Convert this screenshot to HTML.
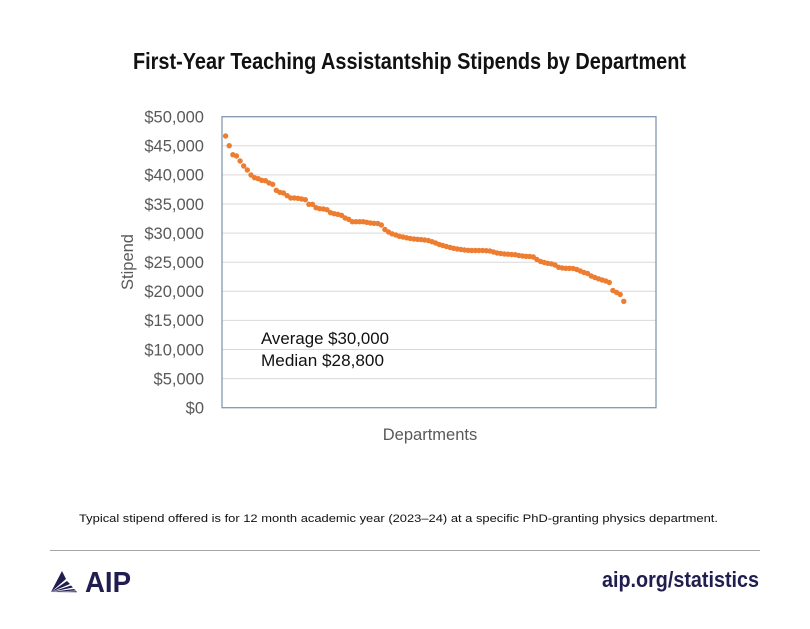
<!DOCTYPE html>
<html><head><meta charset="utf-8"><style>
html,body{margin:0;padding:0;background:#fff;}
svg{display:block;}
text{font-family:"Liberation Sans",sans-serif;}
</style></head><body>
<svg width="810" height="629" viewBox="0 0 810 629" xmlns="http://www.w3.org/2000/svg">
<rect width="810" height="629" fill="#fff"/>
<text x="133" y="69" font-size="23" font-weight="bold" fill="#111" textLength="553" lengthAdjust="spacingAndGlyphs">First-Year Teaching Assistantship Stipends by Department</text>
<g stroke="#d9d9d9" stroke-width="1">
<line x1="222" x2="656" y1="378.6" y2="378.6"/>
<line x1="222" x2="656" y1="349.5" y2="349.5"/>
<line x1="222" x2="656" y1="320.4" y2="320.4"/>
<line x1="222" x2="656" y1="291.3" y2="291.3"/>
<line x1="222" x2="656" y1="262.2" y2="262.2"/>
<line x1="222" x2="656" y1="233.1" y2="233.1"/>
<line x1="222" x2="656" y1="204" y2="204"/>
<line x1="222" x2="656" y1="174.9" y2="174.9"/>
<line x1="222" x2="656" y1="145.8" y2="145.8"/>
</g>
<rect x="222" y="116.7" width="434" height="291" fill="none" stroke="#8497b0" stroke-width="1.3"/>
<g font-size="16.5" fill="#595959" text-anchor="end">
<text x="204" y="122.5">$50,000</text>
<text x="204" y="151.6">$45,000</text>
<text x="204" y="180.7">$40,000</text>
<text x="204" y="209.8">$35,000</text>
<text x="204" y="238.9">$30,000</text>
<text x="204" y="268">$25,000</text>
<text x="204" y="297.1">$20,000</text>
<text x="204" y="326.2">$15,000</text>
<text x="204" y="355.3">$10,000</text>
<text x="204" y="384.4">$5,000</text>
<text x="204" y="413.5">$0</text>
</g>
<text transform="translate(133,262) rotate(-90)" font-size="16.5" fill="#595959" text-anchor="middle">Stipend</text>
<text x="430" y="440" font-size="16.5" fill="#595959" text-anchor="middle">Departments</text>
<text x="261" y="344" font-size="16.5" fill="#111" textLength="128" lengthAdjust="spacingAndGlyphs">Average $30,000</text>
<text x="261" y="366" font-size="16.5" fill="#111" textLength="123" lengthAdjust="spacingAndGlyphs">Median $28,800</text>
<g fill="#ed7d31">
<circle cx="225.6" cy="136" r="2.7"/>
<circle cx="229.2" cy="145.7" r="2.7"/>
<circle cx="232.9" cy="154.7" r="2.7"/>
<circle cx="236.5" cy="156" r="2.7"/>
<circle cx="240.1" cy="161" r="2.7"/>
<circle cx="243.7" cy="166" r="2.7"/>
<circle cx="247.3" cy="170" r="2.7"/>
<circle cx="251" cy="175" r="2.7"/>
<circle cx="254.6" cy="177.7" r="2.7"/>
<circle cx="258.2" cy="178.7" r="2.7"/>
<circle cx="261.8" cy="180.3" r="2.7"/>
<circle cx="265.4" cy="180.7" r="2.7"/>
<circle cx="269.1" cy="183" r="2.7"/>
<circle cx="272.7" cy="184.3" r="2.7"/>
<circle cx="276.3" cy="190.3" r="2.7"/>
<circle cx="279.9" cy="192.3" r="2.7"/>
<circle cx="283.5" cy="193" r="2.7"/>
<circle cx="287.2" cy="195.7" r="2.7"/>
<circle cx="290.8" cy="198" r="2.7"/>
<circle cx="294.4" cy="198" r="2.7"/>
<circle cx="298" cy="198.3" r="2.7"/>
<circle cx="301.6" cy="199" r="2.7"/>
<circle cx="305.3" cy="199.7" r="2.7"/>
<circle cx="308.9" cy="204.3" r="2.7"/>
<circle cx="312.5" cy="204.3" r="2.7"/>
<circle cx="316.1" cy="207.7" r="2.7"/>
<circle cx="319.7" cy="208.7" r="2.7"/>
<circle cx="323.4" cy="209" r="2.7"/>
<circle cx="327" cy="209.7" r="2.7"/>
<circle cx="330.6" cy="212.7" r="2.7"/>
<circle cx="334.2" cy="213.7" r="2.7"/>
<circle cx="337.8" cy="214.3" r="2.7"/>
<circle cx="341.5" cy="215.3" r="2.7"/>
<circle cx="345.1" cy="218" r="2.7"/>
<circle cx="348.7" cy="219.3" r="2.7"/>
<circle cx="352.3" cy="221.7" r="2.7"/>
<circle cx="355.9" cy="221.7" r="2.7"/>
<circle cx="359.6" cy="221.7" r="2.7"/>
<circle cx="363.2" cy="221.7" r="2.7"/>
<circle cx="366.8" cy="222.3" r="2.7"/>
<circle cx="370.4" cy="223" r="2.7"/>
<circle cx="374" cy="223.3" r="2.7"/>
<circle cx="377.7" cy="223.5" r="2.7"/>
<circle cx="381.3" cy="225" r="2.7"/>
<circle cx="384.9" cy="229.5" r="2.7"/>
<circle cx="388.5" cy="232" r="2.7"/>
<circle cx="392.1" cy="233.8" r="2.7"/>
<circle cx="395.8" cy="235" r="2.7"/>
<circle cx="399.4" cy="236.3" r="2.7"/>
<circle cx="403" cy="237" r="2.7"/>
<circle cx="406.6" cy="237.8" r="2.7"/>
<circle cx="410.2" cy="238.5" r="2.7"/>
<circle cx="413.9" cy="239" r="2.7"/>
<circle cx="417.5" cy="239.3" r="2.7"/>
<circle cx="421.1" cy="239.6" r="2.7"/>
<circle cx="424.7" cy="240" r="2.7"/>
<circle cx="428.3" cy="240.5" r="2.7"/>
<circle cx="432" cy="241.7" r="2.7"/>
<circle cx="435.6" cy="243" r="2.7"/>
<circle cx="439.2" cy="244.5" r="2.7"/>
<circle cx="442.8" cy="245.5" r="2.7"/>
<circle cx="446.4" cy="246.5" r="2.7"/>
<circle cx="450.1" cy="247.5" r="2.7"/>
<circle cx="453.7" cy="248.3" r="2.7"/>
<circle cx="457.3" cy="249" r="2.7"/>
<circle cx="460.9" cy="249.5" r="2.7"/>
<circle cx="464.5" cy="250" r="2.7"/>
<circle cx="468.2" cy="250.3" r="2.7"/>
<circle cx="471.8" cy="250.5" r="2.7"/>
<circle cx="475.4" cy="250.5" r="2.7"/>
<circle cx="479" cy="250.5" r="2.7"/>
<circle cx="482.6" cy="250.5" r="2.7"/>
<circle cx="486.3" cy="250.7" r="2.7"/>
<circle cx="489.9" cy="251" r="2.7"/>
<circle cx="493.5" cy="252" r="2.7"/>
<circle cx="497.1" cy="253" r="2.7"/>
<circle cx="500.7" cy="253.5" r="2.7"/>
<circle cx="504.4" cy="254" r="2.7"/>
<circle cx="508" cy="254.2" r="2.7"/>
<circle cx="511.6" cy="254.5" r="2.7"/>
<circle cx="515.2" cy="254.7" r="2.7"/>
<circle cx="518.8" cy="255.5" r="2.7"/>
<circle cx="522.5" cy="256" r="2.7"/>
<circle cx="526.1" cy="256.3" r="2.7"/>
<circle cx="529.7" cy="256.5" r="2.7"/>
<circle cx="533.3" cy="257" r="2.7"/>
<circle cx="536.9" cy="259.5" r="2.7"/>
<circle cx="540.6" cy="261.5" r="2.7"/>
<circle cx="544.2" cy="262.5" r="2.7"/>
<circle cx="547.8" cy="263.3" r="2.7"/>
<circle cx="551.4" cy="263.8" r="2.7"/>
<circle cx="555" cy="265" r="2.7"/>
<circle cx="558.7" cy="267.3" r="2.7"/>
<circle cx="562.3" cy="268" r="2.7"/>
<circle cx="565.9" cy="268.3" r="2.7"/>
<circle cx="569.5" cy="268.3" r="2.7"/>
<circle cx="573.1" cy="268.5" r="2.7"/>
<circle cx="576.8" cy="269.5" r="2.7"/>
<circle cx="580.4" cy="271" r="2.7"/>
<circle cx="584" cy="272.5" r="2.7"/>
<circle cx="587.6" cy="273.5" r="2.7"/>
<circle cx="591.2" cy="276" r="2.7"/>
<circle cx="594.9" cy="277.5" r="2.7"/>
<circle cx="598.5" cy="278.8" r="2.7"/>
<circle cx="602.1" cy="280" r="2.7"/>
<circle cx="605.7" cy="281" r="2.7"/>
<circle cx="609.3" cy="282.5" r="2.7"/>
<circle cx="612.9" cy="290.5" r="2.7"/>
<circle cx="616.6" cy="292.5" r="2.7"/>
<circle cx="620.2" cy="294.5" r="2.7"/>
<circle cx="623.8" cy="301.3" r="2.7"/>
</g>
<text x="79" y="522" font-size="11" fill="#111" textLength="639" lengthAdjust="spacingAndGlyphs">Typical stipend offered is for 12 month academic year (2023–24) at a specific PhD-granting physics department.</text>
<line x1="50" x2="760" y1="550.5" y2="550.5" stroke="#a6a6a6" stroke-width="1"/>
<g fill="#201d4f">
<polygon points="51,592 62,571 66,579"/>
<polygon points="51,592 67,581 70,584"/>
<polygon points="51,592 71,585.5 73,587.5"/>
<polygon points="51,592 74,589 76,590.5"/>
<polygon points="51,592 76.5,591.3 77,592.3"/>
</g>
<text x="85" y="592" font-size="29" font-weight="bold" fill="#201d4f" textLength="46" lengthAdjust="spacingAndGlyphs">AIP</text>
<text x="602" y="587" font-size="22" font-weight="bold" fill="#201d4f" textLength="157" lengthAdjust="spacingAndGlyphs">aip.org/statistics</text>
</svg>
</body></html>
